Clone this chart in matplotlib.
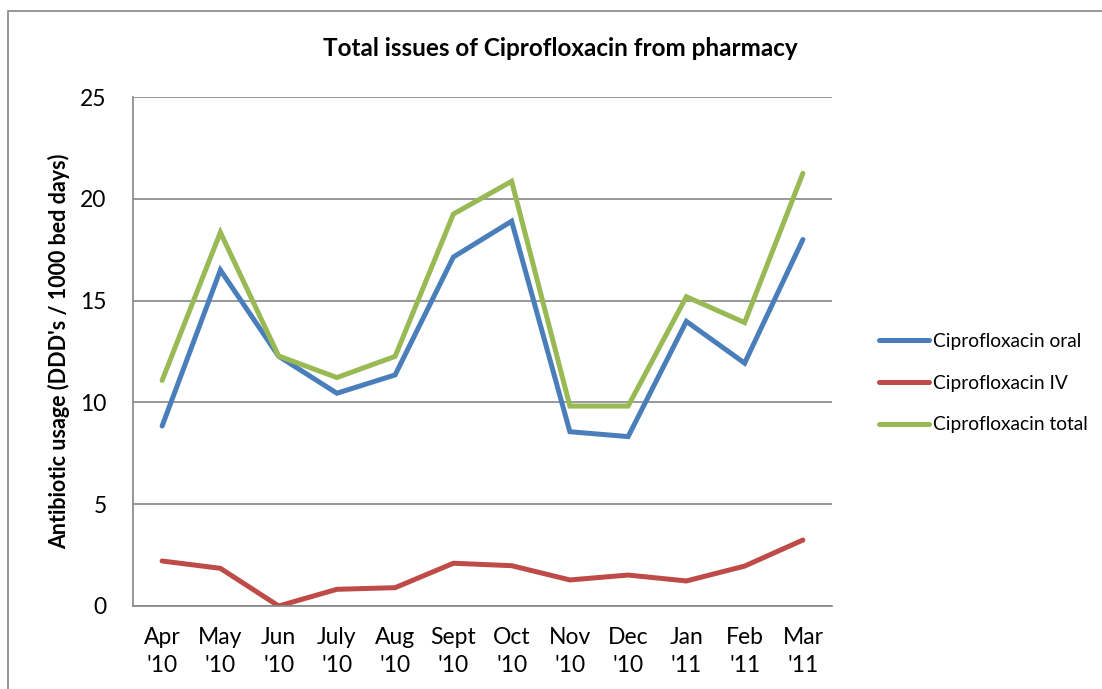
import matplotlib
matplotlib.use("Agg")
import matplotlib.pyplot as plt
from matplotlib.patches import Rectangle

months = ["Apr\n'10", "May\n'10", "Jun\n'10", "July\n'10", "Aug\n'10", "Sept\n'10",
          "Oct\n'10", "Nov\n'10", "Dec\n'10", "Jan\n'11", "Feb\n'11", "Mar\n'11"]
oral = [8.84, 16.5, 12.27, 10.45, 11.35, 17.14, 18.9, 8.56, 8.32, 13.98, 11.93, 18.0]
iv = [2.21, 1.85, 0.0, 0.82, 0.9, 2.1, 1.98, 1.28, 1.52, 1.23, 1.96, 3.24]
total = [11.08, 18.35, 12.28, 11.22, 12.26, 19.25, 20.86, 9.82, 9.82, 15.19, 13.92, 21.25]
series_names = ["Ciprofloxacin oral", "Ciprofloxacin IV", "Ciprofloxacin total"]
yticks = [0, 5, 10, 15, 20, 25]

plt.rcParams['font.family'] = ['Lato', 'DejaVu Sans']

fig = plt.figure(figsize=(11.02, 6.89), dpi=100)
ax = fig.add_axes([133/1102, 1-606/689, (832-133)/1102, (606-97)/689])

# chart border
fig.patches.append(Rectangle((8/1102, -0.1), 1.2, 1-11/689+0.1, transform=fig.transFigure,
                             fill=False, edgecolor='#868686', linewidth=1.2))

x = list(range(len(months)))
colors = ['#4A7EBB', '#BE4B48', '#98B954']
for data, name, c in zip([oral, iv, total], series_names, colors):
    ax.plot(x, data, color=c, linewidth=3.6, label=name, solid_capstyle='round',
            solid_joinstyle='miter')

ax.set_xlim(-0.5, len(months) - 0.5)
ax.set_ylim(0, 25)
ax.set_yticks(yticks)
ax.set_xticks(x)
ax.set_xticklabels(months, fontsize=16.5, linespacing=1.42)
ax.tick_params(axis='y', labelsize=16.5, length=0, pad=19)
ax.tick_params(axis='x', length=0, pad=15)
ax.grid(axis='y', color='#868686', linewidth=1.2)
ax.set_axisbelow(True)
for s in ['top', 'right']:
    ax.spines[s].set_visible(False)
for s in ['left', 'bottom']:
    ax.spines[s].set_color('#868686')
    ax.spines[s].set_linewidth(1.2)

ax.set_ylabel("Antibiotic usage (DDD's / 1000 bed days)", fontsize=15.5, fontweight='bold', labelpad=7)
fig.text(560/1102, 1-48/689, "Total issues of Ciprofloxacin from pharmacy", fontsize=17.5,
         fontweight='bold', ha='center', va='center')

leg = ax.legend(loc='center left', bbox_to_anchor=(862/1102, 1-383/689), bbox_transform=fig.transFigure,
                frameon=False, fontsize=13.8, handlelength=2.6, handletextpad=0.2, labelspacing=1.3)

fig.savefig("out.png", dpi=100)
